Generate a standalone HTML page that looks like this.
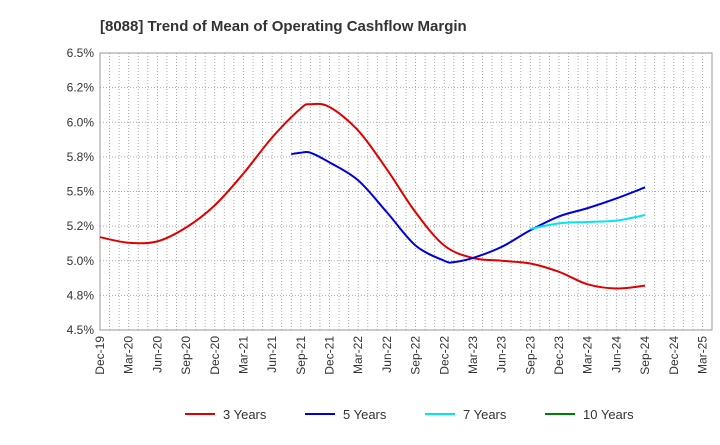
<!DOCTYPE html>
<html><head><meta charset="utf-8"><style>
body{margin:0;background:#fff;font-family:"Liberation Sans",sans-serif}
</style></head><body>
<svg id="c" width="720" height="440" xmlns="http://www.w3.org/2000/svg">
<text x="100" y="31" font-size="15" font-weight="bold" fill="#333">[8088]  Trend of Mean of Operating Cashflow Margin</text>
<g id="grid"></g><g id="axes"></g><g id="series"></g><g id="legend"></g>
</svg>
<script>
const xLabels=["Dec-19","Mar-20","Jun-20","Sep-20","Dec-20","Mar-21","Jun-21","Sep-21","Dec-21","Mar-22","Jun-22","Sep-22","Dec-22","Mar-23","Jun-23","Sep-23","Dec-23","Mar-24","Jun-24","Sep-24","Dec-24","Mar-25"];
const yTicks=[4.5,4.75,5.0,5.25,5.5,5.75,6.0,6.25,6.5];
const yTickLabels=["4.5%","4.8%","5.0%","5.2%","5.5%","5.8%","6.0%","6.2%","6.5%"];
// month offsets from Dec-19
const m3=[0,3,6,9,12,15,18,21,22,24,27,30,33,36,39,42,45,48,51,54,57];
const v3=[5.17,5.13,5.14,5.24,5.40,5.63,5.89,6.10,6.13,6.11,5.94,5.66,5.35,5.11,5.02,5.00,4.98,4.92,4.83,4.80,4.82];
const m5=[20,21,22,24,27,30,33,36,37,39,42,45,48,51,54,57];
const v5=[5.77,5.78,5.78,5.71,5.58,5.35,5.11,5.00,4.99,5.02,5.10,5.22,5.32,5.38,5.45,5.53];
const m7=[45,48,51,54,57];
const v7=[5.23,5.27,5.28,5.29,5.33];
const L=100,R=712,T=53,B=330,SPAN=64;
const x=m=>L+(R-L)*m/SPAN;
const y=v=>B-(B-T)*(v-4.5)/2;
const NS="http://www.w3.org/2000/svg";
function mk(p,t,a){const e=document.createElementNS(NS,t);for(const k in a)e.setAttribute(k,a[k]);p.appendChild(e);return e;}
const g=document.getElementById('grid'),ax=document.getElementById('axes'),s=document.getElementById('series'),lg=document.getElementById('legend');
for(let m=1;m<SPAN;m++){const l=mk(g,'line',{x1:x(m),x2:x(m),y1:T,y2:B,stroke:'#aaa','stroke-dasharray':'1,2','stroke-width':1});}
yTicks.forEach((v,i)=>{if(i>0&&i<yTicks.length-1){const l=mk(g,'line',{x1:L,x2:R,y1:y(v),y2:y(v),stroke:'#aaa','stroke-dasharray':'1,2'});}
const t=mk(ax,'text',{x:L-6,y:y(v)+4,'text-anchor':'end','font-size':12,fill:'#333'});t.textContent=yTickLabels[i];});
const fr=mk(ax,'rect',{x:L,y:T,width:R-L,height:B-T,fill:'none',stroke:'#999'});
xLabels.forEach((lb,i)=>{const xx=x(i*3);const t=mk(ax,'text',{x:xx+4,y:B+6,'text-anchor':'end','font-size':12,fill:'#333',transform:`rotate(-90 ${xx+4} ${B+6})`});t.textContent=lb;});
function path(ms,vs){const p=ms.map((m,i)=>[x(m),y(vs[i])]);let d=`M${p[0][0]},${p[0][1]}`;for(let i=0;i<p.length-1;i++){const p0=p[i-1]||p[i],p1=p[i],p2=p[i+1],p3=p[i+2]||p2;const c1=[p1[0]+(p2[0]-p0[0])/6,p1[1]+(p2[1]-p0[1])/6],c2=[p2[0]-(p3[0]-p1[0])/6,p2[1]-(p3[1]-p1[1])/6];d+=`C${c1[0]},${c1[1]} ${c2[0]},${c2[1]} ${p2[0]},${p2[1]}`;}return d;}
[[m3,v3,'#e00000','line-3-years'],[m5,v5,'#0000dd','line-5-years'],[m7,v7,'#00e5ee','line-7-years']].forEach(a=>{const e=mk(s,'path',{d:path(a[0],a[1]),fill:'none',stroke:a[2],'stroke-width':2});});
[['3 Years','#e00000',185],['5 Years','#0000dd',305],['7 Years','#00e5ee',425],['10 Years','#008000',545]].forEach(a=>{const gg=mk(lg,'g',{});mk(gg,'line',{x1:a[2],x2:a[2]+30,y1:414,y2:414,stroke:a[1],'stroke-width':2});const t=mk(gg,'text',{x:a[2]+38,y:419,'font-size':13,fill:'#333'});t.textContent=a[0];});
</script>
</body></html>
